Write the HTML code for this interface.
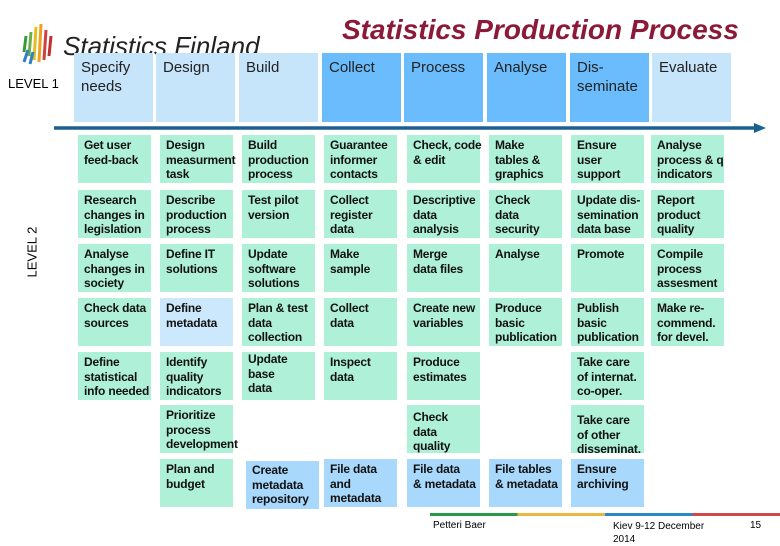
<!DOCTYPE html>
<html><head><meta charset="utf-8"><style>
body{margin:0;width:780px;height:540px;background:#fff;position:relative;overflow:hidden;font-family:"Liberation Sans",sans-serif}
.a{position:absolute}
.l1{position:absolute;top:53px;width:79px;height:69px;font-size:15px;line-height:19px;padding:5px 0 0 7px;box-sizing:border-box;color:#222}
.c{position:absolute;width:73px;height:48px;background:#aef0d8;font-size:12px;font-weight:bold;line-height:14.5px;padding:3px 0 0 6px;box-sizing:border-box;color:#111;white-space:nowrap;letter-spacing:-0.2px}
.b{background:#a8d8fc}
.lb{background:#cce8fc}
</style></head><body>
<div class="a" style="left:342px;top:14px;font-size:28px;font-weight:bold;font-style:italic;color:#8b1a3a">Statistics Production Process</div>
<svg class="a" style="left:20px;top:22px" width="36" height="44">
<g stroke-width="3">
<line x1="4" y1="30" x2="6" y2="14" stroke="#3a9a3a"/><line x1="9" y1="34" x2="11" y2="10" stroke="#6ab04a"/><line x1="14" y1="38" x2="16" y2="5" stroke="#e0c020"/><line x1="19" y1="40" x2="21" y2="2" stroke="#f0a020"/><line x1="24" y1="38" x2="26" y2="8" stroke="#d04040"/><line x1="29" y1="34" x2="31" y2="14" stroke="#c03030"/>
<line x1="4" y1="40" x2="8" y2="28" stroke="#3080c8"/><line x1="10" y1="42" x2="13" y2="30" stroke="#3080c8"/>
</g></svg>
<div class="a" style="left:63px;top:31px;font-size:26px;font-style:italic;color:#222">Statistics Finland</div>
<div class="a" style="left:8px;top:76px;font-size:13px">LEVEL 1</div>
<div class="a" style="left:2px;top:240px;font-size:13px;transform:rotate(-90deg);width:60px">LEVEL 2</div>
<div class="l1" style="left:74px;background:#c6e4fa">Specify<br>needs</div>
<div class="l1" style="left:156px;background:#c6e4fa">Design</div>
<div class="l1" style="left:239px;background:#c6e4fa">Build</div>
<div class="l1" style="left:322px;background:#6abcfc">Collect</div>
<div class="l1" style="left:404px;background:#6abcfc">Process</div>
<div class="l1" style="left:487px;background:#6abcfc">Analyse</div>
<div class="l1" style="left:570px;background:#6abcfc">Dis-<br>seminate</div>
<div class="l1" style="left:652px;background:#c6e4fa">Evaluate</div>
<svg class="a" style="left:54px;top:122px" width="720" height="12"><line x1="0" y1="6" x2="704" y2="6" stroke="#1c5f93" stroke-width="3.5"/><polygon points="700,1 712,6 700,11" fill="#1c5f93"/></svg>

<div class="c" style="left:78px;top:135px">Get user<br>feed-back</div>
<div class="c" style="left:160px;top:135px">Design<br>measurment<br>task</div>
<div class="c" style="left:242px;top:135px">Build<br>production<br>process</div>
<div class="c" style="left:324px;top:135px">Guarantee<br>informer<br>contacts</div>
<div class="c" style="left:407px;top:135px">Check, code<br>&amp; edit</div>
<div class="c" style="left:489px;top:135px">Make<br>tables &amp;<br>graphics</div>
<div class="c" style="left:571px;top:135px">Ensure<br>user<br>support</div>
<div class="c" style="left:651px;top:135px">Analyse<br>process &amp; q<br>indicators</div>

<div class="c" style="left:78px;top:190px">Research<br>changes in<br>legislation</div>
<div class="c" style="left:160px;top:190px">Describe<br>production<br>process</div>
<div class="c" style="left:242px;top:190px">Test pilot<br>version</div>
<div class="c" style="left:324px;top:190px">Collect<br>register<br>data</div>
<div class="c" style="left:407px;top:190px">Descriptive<br>data<br>analysis</div>
<div class="c" style="left:489px;top:190px">Check<br>data<br>security</div>
<div class="c" style="left:571px;top:190px">Update dis-<br>semination<br>data base</div>
<div class="c" style="left:651px;top:190px">Report<br>product<br>quality</div>

<div class="c" style="left:78px;top:244px">Analyse<br>changes in<br>society</div>
<div class="c" style="left:160px;top:244px">Define IT<br>solutions</div>
<div class="c" style="left:242px;top:244px">Update<br>software<br>solutions</div>
<div class="c" style="left:324px;top:244px">Make<br>sample</div>
<div class="c" style="left:407px;top:244px">Merge<br>data files</div>
<div class="c" style="left:489px;top:244px">Analyse</div>
<div class="c" style="left:571px;top:244px">Promote</div>
<div class="c" style="left:651px;top:244px">Compile<br>process<br>assesment</div>

<div class="c" style="left:78px;top:298px">Check data<br>sources</div>
<div class="c lb" style="left:160px;top:298px">Define<br>metadata</div>
<div class="c" style="left:242px;top:298px">Plan &amp; test<br>data<br>collection</div>
<div class="c" style="left:324px;top:298px">Collect<br>data</div>
<div class="c" style="left:407px;top:298px">Create new<br>variables</div>
<div class="c" style="left:489px;top:298px">Produce<br>basic<br>publication</div>
<div class="c" style="left:571px;top:298px">Publish<br>basic<br>publication</div>
<div class="c" style="left:651px;top:298px">Make re-<br>commend.<br>for devel.</div>

<div class="c" style="left:78px;top:352px">Define<br>statistical<br>info needed</div>
<div class="c" style="left:160px;top:352px">Identify<br>quality<br>indicators</div>
<div class="c" style="left:242px;top:352px;padding-top:0">Update<br>base<br>data</div>
<div class="c" style="left:324px;top:352px">Inspect<br>data</div>
<div class="c" style="left:407px;top:352px">Produce<br>estimates</div>
<div class="c" style="left:571px;top:352px">Take care<br>of internat.<br>co-oper.</div>

<div class="c" style="left:160px;top:405px">Prioritize<br>process<br>development</div>
<div class="c" style="left:407px;top:405px;padding-top:5px">Check<br>data<br>quality</div>
<div class="c" style="left:571px;top:405px;padding-top:8px">Take care<br>of other<br>disseminat.</div>

<div class="c" style="left:160px;top:459px">Plan and<br>budget</div>
<div class="c b" style="left:246px;top:461px;padding-top:2px">Create<br>metadata<br>repository</div>
<div class="c b" style="left:324px;top:459px">File data<br>and<br>metadata</div>
<div class="c b" style="left:407px;top:459px">File data<br>&amp; metadata</div>
<div class="c b" style="left:489px;top:459px">File tables<br>&amp; metadata</div>
<div class="c b" style="left:571px;top:459px">Ensure<br>archiving</div>

<div class="a" style="left:430px;top:513px;width:350px;height:3px;background:linear-gradient(90deg,#2a9a4a 0 25%,#e8b840 25% 50%,#2a88c8 50% 75%,#d04848 75%)"></div>
<div class="a" style="left:433px;top:520px;font-size:10px">Petteri Baer</div>
<div class="a" style="left:613px;top:520px;font-size:10px;line-height:13px">Kiev 9-12 December<br>2014</div>
<div class="a" style="left:750px;top:520px;font-size:10px">15</div>
</body></html>
